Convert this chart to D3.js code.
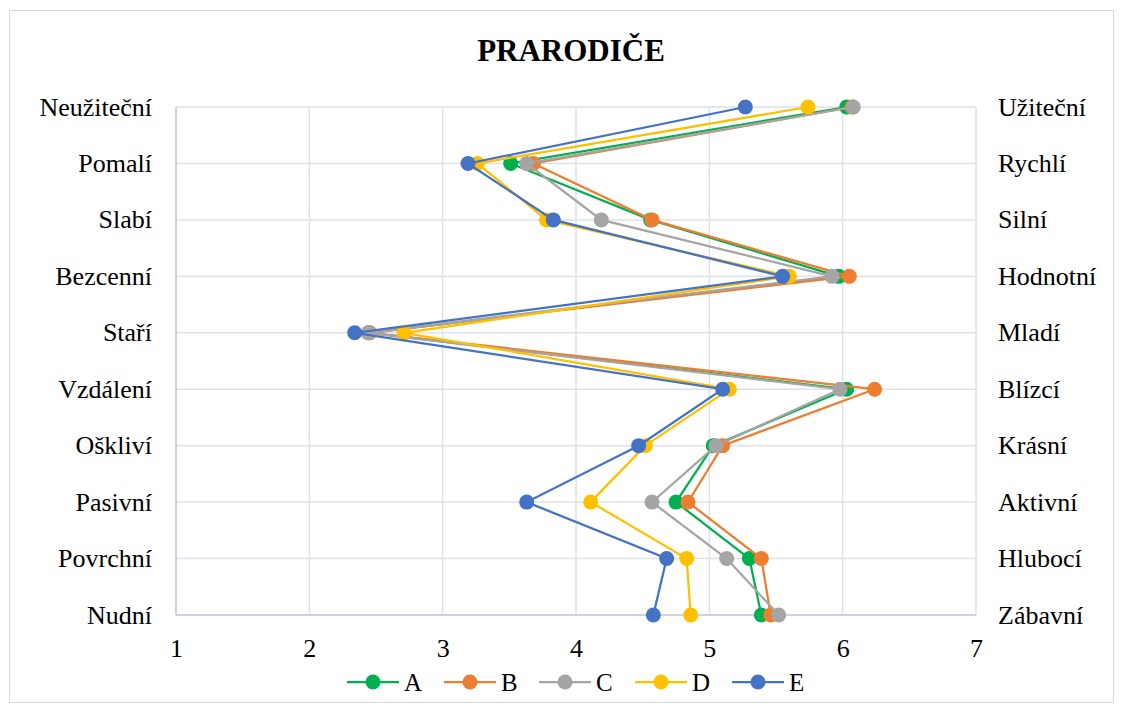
<!DOCTYPE html>
<html>
<head>
<meta charset="utf-8">
<script src="https://cdn.jsdelivr.net/npm/d3@7"></script>
<style>
  body { margin: 0; background: #fff; }
  svg { display: block; font-family: "Liberation Serif", "Times New Roman", serif; }
</style>
</head>
<body>
<svg></svg>
<script>
const size = {w: 1124, h: 713};
const margin = {t: 107, r: 148, b: 98, l: 176};

// data
const leftLabels = ['Neužiteční', 'Pomalí', 'Slabí', 'Bezcenní', 'Staří', 'Vzdálení', 'Oškliví', 'Pasivní', 'Povrchní', 'Nudní'];
const rightLabels = ['Užiteční', 'Rychlí', 'Silní', 'Hodnotní', 'Mladí', 'Blízcí', 'Krásní', 'Aktivní', 'Hlubocí', 'Zábavní'];
const seriesNames = ['A', 'B', 'C', 'D', 'E'];
const seriesColors = ['#00b050', '#ed7d31', '#a5a5a5', '#ffc000', '#4472c4'];
const valuesA = [6.03, 3.51, 4.56, 5.97, 2.45, 6.03, 5.03, 4.75, 5.30, 5.39];
const valuesB = [6.07, 3.68, 4.57, 6.05, 2.45, 6.24, 5.10, 4.84, 5.39, 5.46];
const valuesC = [6.08, 3.63, 4.19, 5.92, 2.44, 5.98, 5.05, 4.57, 5.13, 5.52];
const valuesD = [5.74, 3.26, 3.78, 5.60, 2.71, 5.15, 4.52, 4.11, 4.83, 4.86];
const valuesE = [5.27, 3.19, 3.83, 5.55, 2.34, 5.10, 4.47, 3.63, 4.68, 4.58];
const xTicks = [1, 2, 3, 4, 5, 6, 7];

const allValues = [valuesA, valuesB, valuesC, valuesD, valuesE];
const fontSize = 26;

const svg = d3.select('svg')
    .attr('width', size.w)
    .attr('height', size.h);

// chart frame
svg.append('rect')
    .attr('x', 9.5).attr('y', 10.5)
    .attr('width', 1104).attr('height', 692)
    .attr('fill', '#fff')
    .attr('stroke', '#d9d9d9');

svg.append('text')
    .attr('x', 571).attr('y', 61)
    .attr('text-anchor', 'middle')
    .attr('font-size', 31)
    .attr('font-weight', 'bold')
    .text('PRARODIČE');

const x = d3.scaleLinear()
    .domain([1, 7])
    .range([margin.l, size.w - margin.r]);

const y = d3.scalePoint()
    .domain(d3.range(leftLabels.length))
    .range([margin.t, size.h - margin.b]);

// gridlines
const gridG = svg.append('g').classed('grid', true);
gridG.selectAll('line.v')
    .data(xTicks.slice(1))
    .join('line')
    .attr('class', 'v')
    .attr('x1', d => x(d)).attr('x2', d => x(d))
    .attr('y1', y(0)).attr('y2', y(leftLabels.length - 1))
    .attr('stroke', '#dde1e9')
    .attr('stroke-width', 1.5);
gridG.selectAll('line.h')
    .data(d3.range(leftLabels.length - 1))
    .join('line')
    .attr('class', 'h')
    .attr('x1', x(1)).attr('x2', x(7))
    .attr('y1', d => y(d)).attr('y2', d => y(d))
    .attr('stroke', '#dde1e9')
    .attr('stroke-width', 1.5);

// axis lines
svg.append('line')
    .attr('x1', x(1)).attr('x2', x(1))
    .attr('y1', y(0)).attr('y2', y(leftLabels.length - 1))
    .attr('stroke', '#bcc4d4').attr('stroke-width', 1.5);
svg.append('line')
    .attr('x1', x(1)).attr('x2', x(7))
    .attr('y1', y(leftLabels.length - 1)).attr('y2', y(leftLabels.length - 1))
    .attr('stroke', '#bcc4d4').attr('stroke-width', 1.5);

// x axis tick labels
const xAxis = d3.axisBottom(x).tickValues(xTicks).tickSize(0).tickFormat(d3.format('d'));
const xAxisG = svg.append('g')
    .attr('transform', `translate(0, ${y(leftLabels.length - 1)})`)
    .call(xAxis);
xAxisG.select('.domain').remove();
xAxisG.selectAll('text')
    .attr('y', 42)
    .attr('dy', 0)
    .attr('font-family', '"Liberation Serif", serif')
    .attr('font-size', fontSize)
    .attr('fill', '#000');

// left & right category labels
svg.append('g').selectAll('text')
    .data(leftLabels)
    .join('text')
    .attr('x', 152)
    .attr('y', (d, i) => y(i))
    .attr('dy', '0.33em')
    .attr('text-anchor', 'end')
    .attr('font-size', fontSize)
    .text(d => d);
svg.append('g').selectAll('text')
    .data(rightLabels)
    .join('text')
    .attr('x', 998)
    .attr('y', (d, i) => y(i))
    .attr('dy', '0.33em')
    .attr('font-size', fontSize)
    .text(d => d);

// series lines and markers
const line = d3.line()
    .x(d => x(d))
    .y((d, i) => y(i));

allValues.forEach((vals, s) => {
    const g = svg.append('g').classed('series', true);
    g.append('path')
        .datum(vals)
        .attr('d', line)
        .attr('fill', 'none')
        .attr('stroke', seriesColors[s])
        .attr('stroke-width', 2.25);
    g.selectAll('circle')
        .data(vals)
        .join('circle')
        .attr('cx', d => x(d))
        .attr('cy', (d, i) => y(i))
        .attr('r', 7.5)
        .attr('fill', seriesColors[s]);
});

// legend
const legendXs = [347, 444, 539, 635, 732];
const legendY = 682;
const legendG = svg.append('g').classed('legend', true);
seriesNames.forEach((name, s) => {
    const g = legendG.append('g').attr('transform', `translate(${legendXs[s]}, ${legendY})`);
    g.append('line')
        .attr('x1', 0).attr('x2', 52)
        .attr('stroke', seriesColors[s])
        .attr('stroke-width', 2.25);
    g.append('circle')
        .attr('cx', 26).attr('r', 7.5)
        .attr('fill', seriesColors[s]);
    g.append('text')
        .attr('x', 57)
        .attr('dy', '0.34em')
        .attr('font-size', 25)
        .text(name);
});
</script>
</body>
</html>
